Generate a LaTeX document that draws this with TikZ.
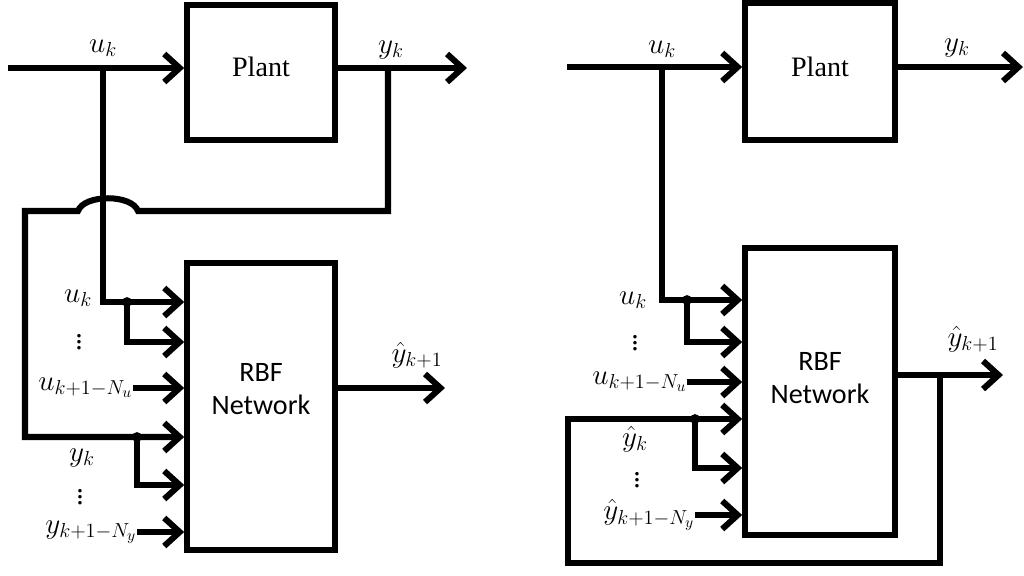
\documentclass[tikz,border=0pt]{standalone}
\usepackage{amsmath}
\usepackage{fontspec}
\setmainfont{Liberation Serif}
\newfontfamily\rbffont{Carlito}
\usetikzlibrary{arrows.meta,calc}
\DeclareMathSizes{21}{21}{15}{11}
\newcommand\vdts{\vbox{\baselineskip4.5pt\lineskiplimit0pt\hbox{.}\hbox{.}\hbox{.}}}

\begin{document}
\begin{tikzpicture}[x=0.025cm, y=-0.025cm,
  sig/.style={line width=4.3pt, -{Straight Barb[length=11pt,width=20pt]}},
  blockbox/.style={draw, line width=4pt, minimum width=3.7cm, inner sep=0pt},
  blocktxt/.style={font=\fontsize{20}{22}\selectfont},
  lbl/.style={font=\fontsize{21}{24}\selectfont, inner sep=0pt},
  jdot/.style={circle, fill, inner sep=0pt, minimum size=7pt}]

\useasboundingbox (0,0) rectangle (1024,575);

% =========================
% LEFT: SERIES-PARALLEL
% =========================

% Blocks
\node[blockbox, minimum height=3.375cm] (plantL) at (261,72.5) {};
\node[blocktxt] (plantLtxt) at (261,67) {Plant};
\node[blockbox, minimum height=7.175cm] (rbfL) at (261,406.5) {};
\node[blocktxt, align=center, font=\rbffont\fontsize{20}{24}\selectfont] (rbfLtxt) at (261,389) {RBF\\Network};

% Points
\coordinate (inL) at (8,68);
\coordinate (brUL) at (103,68);
\coordinate (brYL) at (388,68);
\coordinate (outL) at (467,68);
\coordinate (pL1) at (rbfL.west |- 0,302);
\coordinate (pL2) at (rbfL.west |- 0,342);
\coordinate (pL4) at (rbfL.west |- 0,437);
\coordinate (pL5) at (rbfL.west |- 0,485);
\coordinate (oL) at (445,388);
\node[jdot] (dUL) at (127,302) {};
\node[jdot] (dYL) at (137,437) {};

% Plant in and out
\draw[sig] (inL) -- (inL -| plantL.west);
\draw[sig] (inL -| plantL.east) -- (outL);
\node[lbl] (ukTL) at (103,48) {$u_k$};
\node[lbl] (ykTL) at (391,50) {$y_k$};

% u branch
\draw[sig] (brUL) |- (pL1);
\draw[sig] (dUL.center) |- (pL2);

% y feedback with hop
\draw[sig] (brYL) -- (388,211) -- (138,211)
  .. controls (132,194) and (84,194) .. (78,211) -- (25,211) |- (pL4);
\draw[sig] (dYL.center) |- (pL5);

% Input labels
\node[lbl] (ukL) at (78,298) {$u_k$};
\node[lbl] (vdUL) at (79,342) {\vdts};
\node[lbl, anchor=east] (uNuL) at (133,388) {$u_{k+1-N_u}$};
\draw[sig] (uNuL.east) -- (uNuL.east -| rbfL.west);
\node[lbl] (ykL) at (82,458) {$y_k$};
\node[lbl] (vdYL) at (80,497) {\vdts};
\node[lbl, anchor=east] (yNyL) at (137,532) {$y_{k+1-N_y}$};
\draw[sig] (yNyL.east) -- (yNyL.east -| rbfL.west);

% Output
\draw[sig] (rbfL.east |- oL) -- (oL);
\node[lbl] (yhL) at (417,355) {$\hat{y}_{k+1}$};

% =========================
% RIGHT: PARALLEL
% =========================

% Blocks
\node[blockbox, minimum width=3.75cm, minimum height=3.425cm] (plantR) at (820,71.5) {};
\node[blocktxt] (plantRtxt) at (820,67) {Plant};
\node[blockbox, minimum width=3.75cm, minimum height=7.175cm] (rbfR) at (820,391.5) {};
\node[blocktxt, align=center, font=\rbffont\fontsize{20}{24}\selectfont] (rbfRtxt) at (820,378) {RBF\\Network};

% Points
\coordinate (inR) at (567,67);
\coordinate (brUR) at (662,67);
\coordinate (outR) at (1023,67);
\coordinate (pR1) at (rbfR.west |- 0,300);
\coordinate (pR2) at (rbfR.west |- 0,342);
\coordinate (pR4) at (rbfR.west |- 0,419);
\coordinate (pR5) at (rbfR.west |- 0,468);
\coordinate (oR) at (1003,375);
\coordinate (fbR) at (940,375);
\node[jdot] (dUR) at (687,300) {};
\node[jdot] (dYR) at (695,419) {};

% Plant in and out
\draw[sig] (inR) -- (inR -| plantR.west);
\draw[sig] (inR -| plantR.east) -- (outR);
\node[lbl] (ukTR) at (662,49) {$u_k$};
\node[lbl] (ykTR) at (957,48) {$y_k$};

% u branch
\draw[sig] (brUR) |- (pR1);
\draw[sig] (dUR.center) |- (pR2);

% Output and feedback
\draw[sig] (rbfR.east |- oR) -- (oR);
\draw[sig] (fbR) -- (940,563) -| (568,419) -- (pR4);
\draw[sig] (dYR.center) |- (pR5);
\node[lbl] (yhR) at (973,339) {$\hat{y}_{k+1}$};

% Input labels
\node[lbl] (ukR) at (633,300) {$u_k$};
\node[lbl] (vdUR) at (635,343) {\vdts};
\node[lbl, anchor=east] (uNuR) at (687,382) {$u_{k+1-N_u}$};
\draw[sig] (uNuR.east) -- (uNuR.east -| rbfR.west);
\node[lbl] (ykhR) at (635,439) {$\hat{y}_k$};
\node[lbl] (vdYR) at (637,480) {\vdts};
\node[lbl, anchor=east] (yNyR) at (695,515) {$\hat{y}_{k+1-N_y}$};
\draw[sig] (yNyR.east) -- (yNyR.east -| rbfR.west);

\end{tikzpicture}
\end{document}
